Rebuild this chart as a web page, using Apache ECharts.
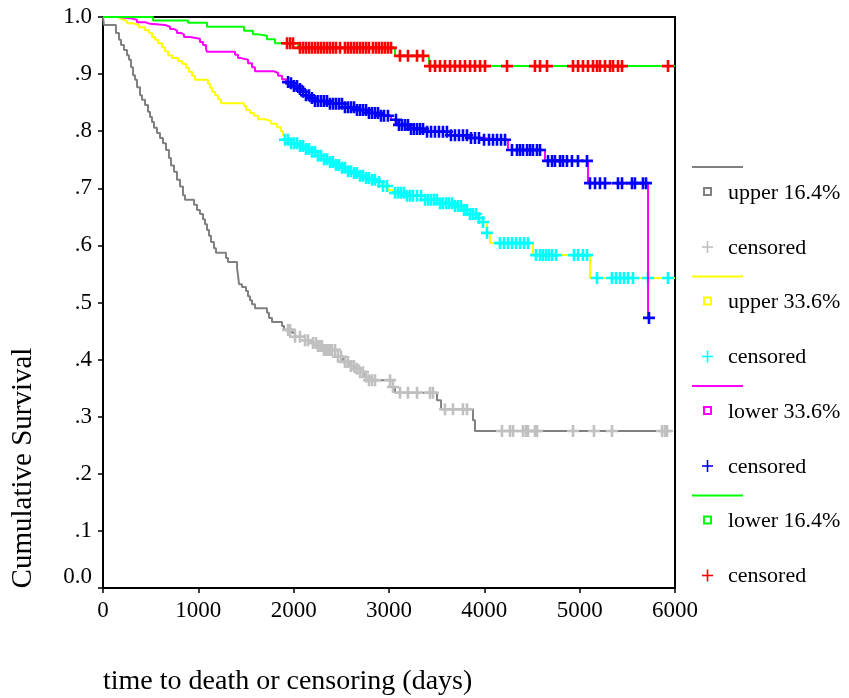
<!DOCTYPE html>
<html><head><meta charset="utf-8">
<script src="https://cdn.jsdelivr.net/npm/echarts@6/dist/echarts.min.js"></script>
<style>html,body{margin:0;padding:0;background:#fff}#c{width:849px;height:698px}</style>
</head><body><div id="c"></div>
<script>
// ---------- DATA ----------
const xTickValues = [0, 1000, 2000, 3000, 4000, 5000, 6000];
const xTickLabels = ['0', '1000', '2000', '3000', '4000', '5000', '6000'];
const yTickLabels = ['0.0', '.1', '.2', '.3', '.4', '.5', '.6', '.7', '.8', '.9', '1.0'];
const groupNames = ['upper 16.4%', 'upper 33.6%', 'lower 33.6%', 'lower 16.4%'];
const censorName = 'censored';
const xTitle = 'time to death or censoring (days)';
const yTitle = 'Cumulative Survival';

// Kaplan-Meier steps: [time, survival after event]
const grayCurve = [[0,1],[10,0.986],[136,0.972],[168,0.960],[189,0.951],[220,0.942],[252,0.933],[273,0.925],[294,0.912],[315,0.898],[336,0.890],[357,0.877],[388,0.863],[409,0.855],[441,0.846],[472,0.834],[493,0.825],[514,0.816],[535,0.806],[566,0.797],[598,0.788],[629,0.779],[661,0.767],[692,0.753],[713,0.740],[745,0.729],[776,0.715],[808,0.703],[839,0.688],[860,0.680],[955,0.671],[986,0.662],[1017,0.655],[1049,0.646],[1070,0.637],[1091,0.627],[1112,0.617],[1133,0.606],[1164,0.595],[1185,0.587],[1290,0.578],[1311,0.571],[1406,0.560],[1416,0.548],[1427,0.532],[1458,0.527],[1500,0.520],[1521,0.511],[1542,0.504],[1563,0.497],[1594,0.490],[1720,0.482],[1741,0.473],[1773,0.466],[1878,0.459],[1899,0.452],[1983,0.447],[2014,0.440],[2119,0.434],[2192,0.429],[2255,0.424],[2308,0.417],[2465,0.405],[2517,0.396],[2591,0.389],[2643,0.384],[2696,0.378],[2748,0.370],[2790,0.364],[3042,0.352],[3063,0.342],[3503,0.329],[3546,0.313],[3881,0.294],[3902,0.275],[5960,0.275]];
const grayCensor = [1941,1962,2014,2066,2119,2150,2203,2234,2255,2276,2297,2318,2339,2360,2381,2402,2434,2465,2497,2538,2570,2601,2633,2664,2696,2727,2759,2790,2822,2853,3011,3042,3115,3199,3294,3430,3461,3587,3671,3776,3818,4185,4269,4301,4406,4437,4458,4531,4552,4930,5150,5339,5864,5895,5916];

const yellowCurve = [[0,1],[157,0.9965],[199,0.993],[252,0.989],[315,0.986],[378,0.982],[441,0.977],[483,0.972],[514,0.965],[545,0.960],[577,0.954],[619,0.947],[650,0.940],[682,0.933],[724,0.928],[787,0.923],[829,0.918],[871,0.911],[902,0.904],[934,0.897],[965,0.890],[1101,0.883],[1122,0.876],[1143,0.869],[1175,0.863],[1206,0.856],[1238,0.849],[1479,0.844],[1500,0.837],[1542,0.832],[1584,0.827],[1626,0.821],[1699,0.818],[1762,0.813],[1825,0.807],[1867,0.800],[1888,0.793],[1909,0.785],[1962,0.779],[2066,0.774],[2119,0.769],[2171,0.764],[2234,0.757],[2297,0.751],[2360,0.746],[2423,0.741],[2486,0.736],[2549,0.730],[2612,0.727],[2675,0.722],[2738,0.718],[2801,0.715],[2864,0.711],[2927,0.704],[2989,0.697],[3042,0.692],[3168,0.687],[3378,0.680],[3535,0.674],[3692,0.669],[3766,0.662],[3850,0.655],[3934,0.648],[3986,0.641],[4028,0.622],[4059,0.604],[4510,0.583],[5108,0.543],[6000,0.543]];
const cyanCensor = [1909,1941,1972,2003,2035,2066,2098,2129,2161,2192,2224,2255,2287,2318,2350,2381,2413,2444,2476,2507,2538,2570,2601,2633,2664,2696,2727,2759,2790,2822,2853,2895,2937,2979,3063,3094,3126,3157,3189,3220,3252,3294,3336,3378,3409,3441,3472,3503,3535,3566,3598,3629,3661,3692,3724,3755,3787,3818,3850,3881,3913,3944,3986,4028,4164,4206,4248,4290,4332,4374,4416,4458,4542,4584,4615,4647,4678,4710,4752,4941,4983,5035,5077,5182,5339,5381,5423,5465,5507,5559,5717,5927];

const magentaCurve = [[0,1],[157,0.998],[283,0.995],[357,0.991],[441,0.988],[493,0.986],[650,0.983],[703,0.979],[745,0.976],[776,0.972],[818,0.969],[850,0.965],[913,0.962],[1017,0.956],[1049,0.951],[1080,0.944],[1091,0.939],[1385,0.934],[1416,0.928],[1448,0.925],[1521,0.919],[1563,0.912],[1594,0.905],[1794,0.902],[1836,0.897],[1878,0.891],[1920,0.886],[1962,0.884],[2003,0.879],[2045,0.874],[2087,0.869],[2129,0.863],[2171,0.858],[2213,0.853],[2381,0.848],[2538,0.842],[2643,0.837],[2780,0.832],[2905,0.827],[3021,0.820],[3084,0.811],[3220,0.804],[3378,0.799],[3640,0.793],[3850,0.788],[3955,0.785],[4248,0.767],[4636,0.748],[5087,0.709],[5717,0.473],[5727,0.473]];
const blueCensor = [1941,1972,2003,2035,2066,2098,2129,2161,2192,2224,2255,2287,2318,2350,2381,2413,2444,2476,2507,2538,2570,2601,2633,2664,2696,2727,2759,2790,2822,2853,2885,2916,2948,2989,3073,3105,3136,3168,3199,3231,3262,3294,3325,3357,3399,3441,3482,3524,3566,3608,3650,3692,3734,3776,3818,3860,3902,3944,3997,4049,4091,4133,4175,4217,4290,4343,4374,4406,4448,4479,4510,4552,4584,4668,4710,4741,4794,4825,4867,4919,4982,5077,5108,5161,5213,5266,5402,5444,5549,5580,5664,5696,5727];

const greenCurve = [[0,1],[525,0.994],[892,0.990],[1091,0.983],[1479,0.976],[1573,0.970],[1615,0.967],[1720,0.961],[1804,0.954],[2045,0.946],[3063,0.932],[3420,0.914],[6000,0.914]];
const redCensor = [1930,1962,1993,2066,2098,2129,2161,2192,2224,2255,2287,2318,2350,2381,2413,2444,2486,2538,2570,2601,2633,2664,2696,2727,2759,2790,2832,2864,2895,2927,2958,2989,3021,3115,3199,3294,3357,3430,3483,3535,3587,3640,3692,3745,3797,3850,3902,3955,4007,4238,4531,4584,4657,4930,4983,5035,5087,5140,5182,5213,5266,5318,5350,5402,5444,5927];

// ---------- STYLE ----------
const lineColors = ['#808080', '#ffff00', '#ff00ff', '#00ff00'];
const censorColors = ['#c0c0c0', '#00ffff', '#0000ff', '#ff0000'];
const FONT = '"Liberation Serif", "Times New Roman", serif';
const plusSymbol = 'path://M0,4.7H12V7.3H0Z M4.7,0H7.3V12H4.7Z';

const curves = [grayCurve, yellowCurve, magentaCurve, greenCurve];
const censors = [grayCensor, cyanCensor, blueCensor, redCensor];

function survivalAt(curve, t) {
  let s = curve[0][1];
  for (const p of curve) { if (p[0] <= t) s = p[1]; else break; }
  return s;
}

const series = [];
curves.forEach((c, i) => {
  series.push({
    type: 'line', name: groupNames[i], step: 'end', data: c,
    showSymbol: false, silent: true, z: 2 + i * 2,
    lineStyle: { color: lineColors[i], width: 2 }
  });
  series.push({
    type: 'scatter', name: censorName, data: censors[i].map(t => [t, survivalAt(c, t)]),
    symbol: plusSymbol, symbolSize: 12, silent: true, z: 3 + i * 2,
    itemStyle: { color: censorColors[i], opacity: 1 }
  });
});

// legend as graphics
const graphics = [];
const legX = 692, legTextX = 728, legTop = 167, legStep = 109.5;
groupNames.forEach((n, i) => {
  const y0 = legTop + i * legStep;
  graphics.push({ type: 'line', shape: { x1: legX, y1: y0, x2: legX + 51, y2: y0 }, style: { stroke: lineColors[i], lineWidth: 2 } });
  graphics.push({ type: 'rect', shape: { x: 704, y: y0 + 21, width: 7, height: 7 }, style: { fill: 'none', stroke: lineColors[i], lineWidth: 2 } });
  graphics.push({ type: 'text', x: legTextX, y: y0 + 26, style: { text: n, font: '22px ' + FONT, fill: '#000', verticalAlign: 'middle', align: 'left' } });
  const py = y0 + 80;
  graphics.push({ type: 'line', shape: { x1: 702, y1: py, x2: 713, y2: py }, style: { stroke: censorColors[i], lineWidth: 1.6 } });
  graphics.push({ type: 'line', shape: { x1: 707.5, y1: py - 6, x2: 707.5, y2: py + 6 }, style: { stroke: censorColors[i], lineWidth: 1.6 } });
  graphics.push({ type: 'text', x: legTextX, y: py + 1, style: { text: censorName, font: '22px ' + FONT, fill: '#000', verticalAlign: 'middle', align: 'left' } });
});
graphics.push({ type: 'text', x: 103, y: 682, style: { text: xTitle, font: '28px ' + FONT, fill: '#000', verticalAlign: 'middle', align: 'left' } });
graphics.push({ type: 'text', x: 23, y: 468, rotation: Math.PI / 2, style: { text: yTitle, font: '29px ' + FONT, fill: '#000', verticalAlign: 'middle', align: 'center' } });

const chart = echarts.init(document.getElementById('c'), null, { renderer: 'canvas' });
chart.setOption({
  animation: false,
  backgroundColor: '#fff',
  grid: { left: 103, top: 17, right: 174, bottom: 110, show: true, borderColor: '#000', borderWidth: 2, backgroundColor: 'transparent' },
  xAxis: {
    type: 'value', min: xTickValues[0], max: xTickValues[xTickValues.length - 1], interval: 1000,
    axisLine: { show: true, onZero: false, lineStyle: { color: '#000', width: 2 } },
    axisTick: { show: true, length: 5, lineStyle: { color: '#000', width: 1.5 } },
    axisLabel: { color: '#000', fontSize: 23, fontFamily: FONT, margin: 11, showMinLabel: true, showMaxLabel: true,
      formatter: v => xTickLabels[xTickValues.indexOf(v)] },
    splitLine: { show: false }
  },
  yAxis: {
    type: 'value', min: 0, max: 1, interval: 0.1,
    axisLine: { show: true, onZero: false, lineStyle: { color: '#000', width: 2 } },
    axisTick: { show: true, length: 5, lineStyle: { color: '#000', width: 1.5 } },
    axisLabel: { color: '#000', fontSize: 23, fontFamily: FONT, margin: 11, verticalAlignMinLabel: 'bottom',
      formatter: v => yTickLabels[Math.round(v * 10)] },
    splitLine: { show: false }
  },
  series: series,
  graphic: graphics
});
</script></body></html>
